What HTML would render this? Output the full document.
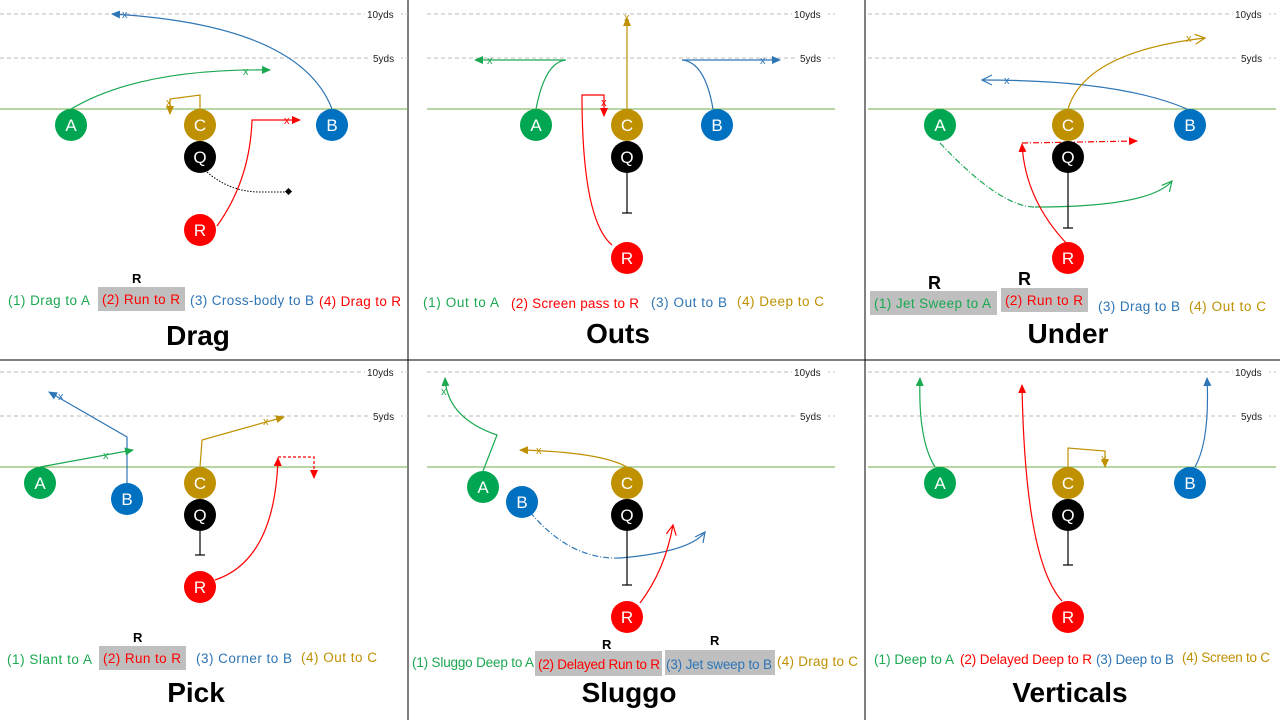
<!DOCTYPE html>
<html><head><meta charset="utf-8"><style>
html,body{margin:0;padding:0;background:#fff}
svg{display:block}
text{font-family:"Liberation Sans",sans-serif}
.yd{font-size:10px;fill:#222}
.lg{font-size:13.5px}
.tt{font-size:28px;font-weight:bold;fill:#000}
.rl{font-size:13px;font-weight:bold;fill:#000}
.pl{font-size:17px;fill:#fff}
.g{stroke:#1aa851;fill:none;stroke-width:1.2}
.o{stroke:#bf9000;fill:none;stroke-width:1.2}
.b{stroke:#2e75b6;fill:none;stroke-width:1.2}
.r{stroke:#ff0000;fill:none;stroke-width:1.2}
.k{stroke:#000;fill:none;stroke-width:1.2}
.x{font-size:11px}
</style></head><body>
<svg id="s" width="1280" height="720" viewBox="0 0 1280 720">
<defs>
<marker id="ag" markerWidth="10" markerHeight="10" refX="8" refY="5" orient="auto" markerUnits="userSpaceOnUse"><path d="M0,1 L9,5 L0,9z" fill="#1aa851"/></marker>
<marker id="ao" markerWidth="10" markerHeight="10" refX="8" refY="5" orient="auto" markerUnits="userSpaceOnUse"><path d="M0,1 L9,5 L0,9z" fill="#bf9000"/></marker>
<marker id="ab" markerWidth="10" markerHeight="10" refX="8" refY="5" orient="auto" markerUnits="userSpaceOnUse"><path d="M0,1 L9,5 L0,9z" fill="#2e75b6"/></marker>
<marker id="ar" markerWidth="10" markerHeight="10" refX="8" refY="5" orient="auto" markerUnits="userSpaceOnUse"><path d="M0,1 L9,5 L0,9z" fill="#ff0000"/></marker>
<marker id="og" markerWidth="12" markerHeight="12" refX="10" refY="6" orient="auto" markerUnits="userSpaceOnUse"><path d="M0,1 L10,6 L0,11" fill="none" stroke="#1aa851" stroke-width="1.2"/></marker>
<marker id="oo" markerWidth="12" markerHeight="12" refX="10" refY="6" orient="auto" markerUnits="userSpaceOnUse"><path d="M0,1 L10,6 L0,11" fill="none" stroke="#bf9000" stroke-width="1.2"/></marker>
<marker id="ob" markerWidth="12" markerHeight="12" refX="10" refY="6" orient="auto" markerUnits="userSpaceOnUse"><path d="M0,1 L10,6 L0,11" fill="none" stroke="#2e75b6" stroke-width="1.2"/></marker>
<marker id="or" markerWidth="12" markerHeight="12" refX="10" refY="6" orient="auto" markerUnits="userSpaceOnUse"><path d="M0,1 L10,6 L0,11" fill="none" stroke="#ff0000" stroke-width="1.2"/></marker>
<marker id="tb" markerWidth="10" markerHeight="10" refX="5" refY="5" orient="auto" markerUnits="userSpaceOnUse"><path d="M5,0 L5,10" stroke="#000" stroke-width="1.2"/></marker>
</defs>

<!-- dividers -->
<line x1="408" y1="0" x2="408" y2="720" stroke="#000" stroke-width="1"/>
<line x1="865" y1="0" x2="865" y2="720" stroke="#000" stroke-width="1"/>
<line x1="0" y1="360" x2="1280" y2="360" stroke="#000" stroke-width="1"/>

<g id="fields"></g>

<!-- DRAG -->
<g>
<path class="b" d="M332,109 Q300,25 112,14" marker-end="url(#ab)"/><text class="x" x="122" y="18" fill="#2e75b6">x</text>
<path class="g" d="M71,109 Q140,68 270,70" marker-end="url(#ag)"/><text class="x" x="243" y="75" fill="#1aa851">x</text>
<path class="o" d="M200,109 L200,95 L170,99 L170,114" marker-end="url(#ao)"/><text class="x" x="166" y="106" fill="#bf9000">x</text>
<path class="r" d="M217,226 Q250,180 252,120 L300,120" marker-end="url(#ar)"/><text class="x" x="284" y="124" fill="#ff0000">x</text>
<path d="M207,172 Q230,192 260,192 L288,192" stroke="#000" stroke-dasharray="1.5,1.5" fill="none"/><rect x="286" y="189" width="5" height="5" transform="rotate(45 288.5 191.5)" fill="#000"/>
</g>
<!-- OUTS -->
<g>
<path class="g" d="M536,109 Q545,62 566,60 L475,60" marker-end="url(#ag)"/><text class="x" x="487" y="64" fill="#1aa851">x</text>
<path class="o" d="M627,109 L627,18" marker-end="url(#ao)"/><text class="x" x="624" y="21" fill="#bf9000">x</text>
<path class="b" d="M713,109 Q705,62 682,60 L780,60" marker-end="url(#ab)"/><text class="x" x="760" y="64" fill="#2e75b6">x</text>
<path class="r" d="M612,245 Q582,220 582,95 L604,95 L604,116" marker-end="url(#ar)"/><text class="x" x="601" y="106" fill="#ff0000">x</text>
<path class="k" d="M627,173 L627,213" marker-end="url(#tb)"/>
</g>
<!-- UNDER -->
<g>
<path class="b" d="M1187,109 Q1120,80 982,80" marker-end="url(#ob)"/><text class="x" x="1004" y="84" fill="#2e75b6">x</text>
<path class="o" d="M1068,109 Q1085,52 1205,38" marker-end="url(#oo)"/><text class="x" x="1186" y="42" fill="#bf9000">x</text>
<path class="g" d="M940,143 Q1000,207 1035,207" stroke-dasharray="6,2,1,2"/>
<path class="g" d="M1035,207 Q1150,207 1172,181" marker-end="url(#og)"/>
<path class="r" d="M1068,245 Q1025,200 1022,144" marker-end="url(#ar)"/>
<path class="r" d="M1022,143 L1137,141" stroke-dasharray="6,2,1,2" marker-end="url(#ar)"/>
<path class="k" d="M1068,173 L1068,228" marker-end="url(#tb)"/>
</g>
<!-- PICK -->
<g>
<path class="b" d="M127,483 L127,437 L49,392" marker-end="url(#ab)"/><text class="x" x="58" y="400" fill="#2e75b6">x</text>
<path class="g" d="M40,467 L133,450" marker-end="url(#ag)"/><text class="x" x="103" y="459" fill="#1aa851">x</text>
<path class="o" d="M200,467 L202,440 L284,417" marker-end="url(#ao)"/><text class="x" x="263" y="425" fill="#bf9000">x</text>
<path class="r" d="M215,580 Q275,560 278,458" marker-end="url(#ar)"/>
<path class="r" d="M278,457 L314,457 L314,478" stroke-dasharray="3,2" marker-end="url(#ar)"/>
<path class="k" d="M200,531 L200,555" marker-end="url(#tb)"/>
</g>
<!-- SLUGGO -->
<g>
<path class="g" d="M483,471 L497,435 Q447,418 445,378" marker-end="url(#ag)"/><text class="x" x="441" y="395" fill="#1aa851">x</text>
<path class="o" d="M627,467 Q600,452 520,450" marker-end="url(#ao)"/><text class="x" x="536" y="454" fill="#bf9000">x</text>
<path class="b" d="M530,512 Q570,560 620,558" stroke-dasharray="6,2,1,2"/>
<path class="b" d="M620,558 Q690,552 705,532" marker-end="url(#ob)"/>
<path class="r" d="M640,603 Q665,570 673,525" marker-end="url(#or)"/>
<path class="k" d="M627,531 L627,585" marker-end="url(#tb)"/>
</g>
<!-- VERTICALS -->
<g>
<path class="g" d="M935,467 Q918,440 920,378" marker-end="url(#ag)"/>
<path class="b" d="M1195,467 Q1210,440 1207,378" marker-end="url(#ab)"/>
<path class="r" d="M1062,601 Q1025,560 1022,385" marker-end="url(#ar)"/>
<path class="o" d="M1068,467 L1068,448 L1105,451 L1105,467" marker-end="url(#ao)"/><text class="x" x="1101" y="462" fill="#bf9000">x</text>
<path class="k" d="M1068,531 L1068,565" marker-end="url(#tb)"/>
</g>

<g id="players"></g>

<!-- legends -->
<g>
<rect x="98" y="287" width="87" height="24" fill="#bfbfbf"/>
<text class="rl" x="132" y="283">R</text>
<text class="lg" x="8" y="305" fill="#1aa851" textLength="82">(1) Drag to A</text>
<text class="lg" x="102" y="304" fill="#ff0000" textLength="78">(2) Run to R</text>
<text class="lg" x="190" y="305" fill="#2e75b6" textLength="124">(3) Cross-body to B</text>
<text class="lg" x="319" y="306" fill="#ff0000" textLength="82">(4) Drag to R</text>
<text class="tt" x="198" y="345" text-anchor="middle">Drag</text>
</g>
<g>
<text class="lg" x="423" y="307" fill="#1aa851" textLength="76">(1) Out to A</text>
<text class="lg" x="511" y="308" fill="#ff0000" textLength="128">(2) Screen pass to R</text>
<text class="lg" x="651" y="307" fill="#2e75b6" textLength="76">(3) Out to B</text>
<text class="lg" x="737" y="306" fill="#bf9000" textLength="87">(4) Deep to C</text>
<text class="tt" x="618" y="343" text-anchor="middle">Outs</text>
</g>
<g>
<rect x="870" y="291" width="127" height="24" fill="#bfbfbf"/>
<rect x="1001" y="288" width="87" height="24" fill="#bfbfbf"/>
<text class="rl" x="928" y="289" style="font-size:18px">R</text>
<text class="rl" x="1018" y="285" style="font-size:18px">R</text>
<text class="lg" x="874" y="308" fill="#1aa851" textLength="117">(1) Jet Sweep to A</text>
<text class="lg" x="1005" y="305" fill="#ff0000" textLength="78">(2) Run to R</text>
<text class="lg" x="1098" y="311" fill="#2e75b6" textLength="82">(3) Drag to B</text>
<text class="lg" x="1189" y="311" fill="#bf9000" textLength="77">(4) Out to C</text>
<text class="tt" x="1068" y="343" text-anchor="middle">Under</text>
</g>
<g>
<rect x="99" y="646" width="87" height="24" fill="#bfbfbf"/>
<text class="rl" x="133" y="642">R</text>
<text class="lg" x="7" y="664" fill="#1aa851" textLength="85">(1) Slant to A</text>
<text class="lg" x="103" y="663" fill="#ff0000" textLength="78">(2) Run to R</text>
<text class="lg" x="196" y="663" fill="#2e75b6" textLength="96">(3) Corner to B</text>
<text class="lg" x="301" y="662" fill="#bf9000" textLength="76">(4) Out to C</text>
<text class="tt" x="196" y="702" text-anchor="middle">Pick</text>
</g>
<g>
<rect x="535" y="651" width="127" height="25" fill="#bfbfbf"/>
<rect x="665" y="650" width="110" height="25" fill="#bfbfbf"/>
<text class="rl" x="602" y="649">R</text>
<text class="rl" x="710" y="645">R</text>
<text class="lg" x="412" y="667" fill="#1aa851" textLength="122">(1) Sluggo Deep to A</text>
<text class="lg" x="538" y="669" fill="#ff0000" textLength="122">(2) Delayed Run to R</text>
<text class="lg" x="666" y="669" fill="#2e75b6" textLength="106">(3) Jet sweep to B</text>
<text class="lg" x="777" y="666" fill="#bf9000" textLength="81">(4) Drag to C</text>
<text class="tt" x="629" y="702" text-anchor="middle">Sluggo</text>
</g>
<g>
<text class="lg" x="874" y="664" fill="#1aa851" textLength="80">(1) Deep to A</text>
<text class="lg" x="960" y="664" fill="#ff0000" textLength="132">(2) Delayed Deep to R</text>
<text class="lg" x="1096" y="664" fill="#2e75b6" textLength="78">(3) Deep to B</text>
<text class="lg" x="1182" y="662" fill="#bf9000" textLength="88">(4) Screen to C</text>
<text class="tt" x="1070" y="702" text-anchor="middle">Verticals</text>
</g>
</svg>
<script>
const NS='http://www.w3.org/2000/svg';
const panelX=[[0,408],[427,835],[868,1276],[0,408],[427,835],[868,1276]];
const panelTop=[0,0,0,358,358,358];
const yardLabels=['10yds','5yds'];
const yardY=[14,58];
const losY=109;
const fields=document.getElementById('fields');
panelX.forEach((px,i)=>{
  const t=panelTop[i];
  yardY.forEach((y,j)=>{
    const l=document.createElementNS(NS,'line');
    l.setAttribute('x1',px[0]);l.setAttribute('x2',px[1]);l.setAttribute('y1',y+t);l.setAttribute('y2',y+t);
    l.setAttribute('stroke','#bbb');l.setAttribute('stroke-dasharray','4,3');
    
    
    fields.appendChild(l);
    const tx=document.createElementNS(NS,'text');
    tx.setAttribute('x',px[1]-37);tx.setAttribute('y',y+t+4);tx.setAttribute('class','yd');
    const bg=document.createElementNS(NS,'rect');
    bg.setAttribute('x',px[1]-(j?37:43));bg.setAttribute('y',y+t-6);bg.setAttribute('width',j?30:36);bg.setAttribute('height',12);bg.setAttribute('fill','#fff');
    fields.appendChild(bg);
    tx.setAttribute('x',px[1]-(j?35:41));
    tx.textContent=yardLabels[j];
    
    
    fields.appendChild(tx);
  });
  const l=document.createElementNS(NS,'line');
  l.setAttribute('x1',px[0]);l.setAttribute('x2',px[1]);l.setAttribute('y1',losY+t);l.setAttribute('y2',losY+t);
  l.setAttribute('stroke','#70ad47');l.setAttribute('stroke-width','1');
  
  
  fields.appendChild(l);
});
const players=[
 ['A',71,125,'#00a651'],['C',200,125,'#bf9000'],['B',332,125,'#0070c0'],['Q',200,157,'#000'],['R',200,230,'#ff0000'],
 ['A',536,125,'#00a651'],['C',627,125,'#bf9000'],['B',717,125,'#0070c0'],['Q',627,157,'#000'],['R',627,258,'#ff0000'],
 ['A',940,125,'#00a651'],['C',1068,125,'#bf9000'],['B',1190,125,'#0070c0'],['Q',1068,157,'#000'],['R',1068,258,'#ff0000'],
 ['A',40,483,'#00a651'],['B',127,499,'#0070c0'],['C',200,483,'#bf9000'],['Q',200,515,'#000'],['R',200,587,'#ff0000'],
 ['A',483,487,'#00a651'],['B',522,502,'#0070c0'],['C',627,483,'#bf9000'],['Q',627,515,'#000'],['R',627,617,'#ff0000'],
 ['A',940,483,'#00a651'],['C',1068,483,'#bf9000'],['B',1190,483,'#0070c0'],['Q',1068,515,'#000'],['R',1068,617,'#ff0000']
];
const pg=document.getElementById('players');
players.forEach(p=>{
  const g=document.createElementNS(NS,'g');
  
  
  const c=document.createElementNS(NS,'circle');
  c.setAttribute('cx',p[1]);c.setAttribute('cy',p[2]);c.setAttribute('r',16);c.setAttribute('fill',p[3]);
  g.appendChild(c);
  const t=document.createElementNS(NS,'text');
  t.setAttribute('x',p[1]);t.setAttribute('y',p[2]+6);t.setAttribute('text-anchor','middle');t.setAttribute('class','pl');
  t.textContent=p[0];
  g.appendChild(t);
  pg.appendChild(g);
});
</script>
</body></html>
